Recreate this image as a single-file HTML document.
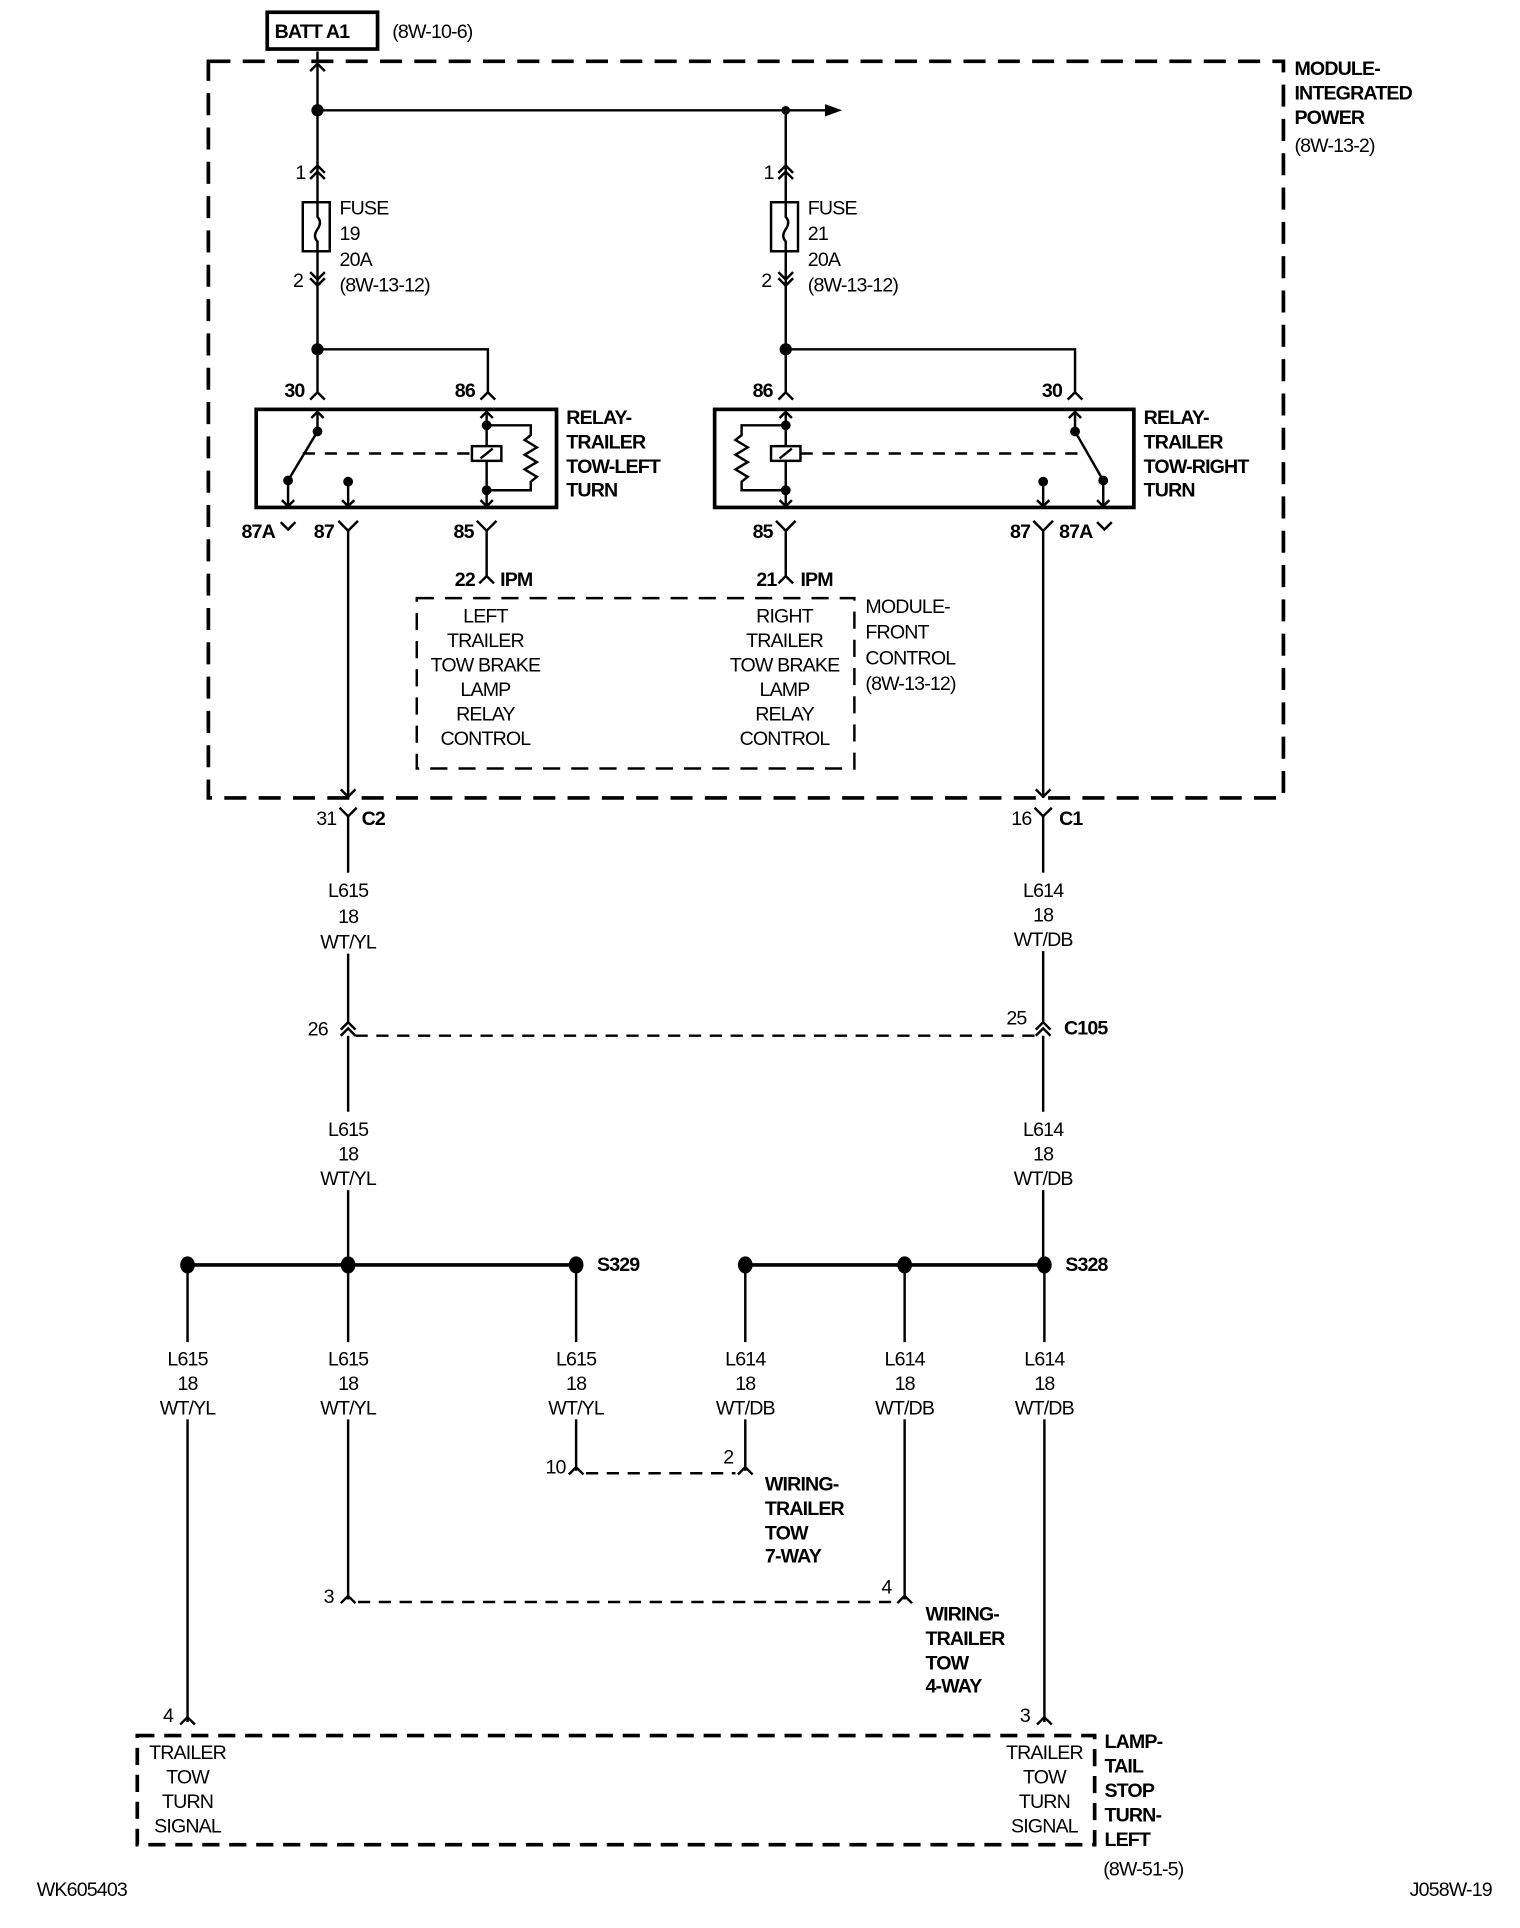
<!DOCTYPE html>
<html><head><meta charset="utf-8"><style>
html,body{margin:0;padding:0;background:#fff;}
svg{display:block;}
text{font-family:"Liberation Sans Narrow","Liberation Sans",sans-serif;font-size:16px;fill:#000;font-weight:bold;letter-spacing:-0.7px;}
.n{font-weight:normal;}
.m{text-anchor:middle;}
</style></head><body>
<svg width="1520" height="1928" viewBox="0 0 1240 1573" preserveAspectRatio="none" xmlns="http://www.w3.org/2000/svg">
<g fill="none" stroke="#000" stroke-width="2">
<rect x="218" y="10" width="90" height="30" stroke-width="3"/>
<rect x="170" y="50" width="877" height="601" stroke-width="3" stroke-dasharray="18 10"/>
<line x1="259" y1="42" x2="259" y2="320"/>
<polyline points="253,58 259,52 265,58"/>
<line x1="259" y1="90" x2="675" y2="90"/>
<line x1="641" y1="90" x2="641" y2="320"/>
<polyline points="253,141 259,135 265,141"/><polyline points="253,146 259,140 265,146"/>
<polyline points="635,141 641,135 647,141"/><polyline points="635,146 641,140 647,146"/>
<polyline points="253,222 259,228 265,222"/><polyline points="253,227 259,233 265,227"/>
<polyline points="635,222 641,228 647,222"/><polyline points="635,227 641,233 647,227"/>
<rect x="247" y="165" width="22" height="40" fill="#fff"/>
<path d="M259 165 v12 q4 4 0 10 q-4 6 0 10 v8"/>
<rect x="629" y="165" width="22" height="40" fill="#fff"/>
<path d="M641 165 v12 q4 4 0 10 q-4 6 0 10 v8"/>
<polyline points="259,285 398,285 398,320"/>
<polyline points="641,285 877,285 877,320"/>
<polyline points="253,326 259,320 265,326"/><polyline points="392,326 398,320 404,326"/>
<polyline points="635,326 641,320 647,326"/><polyline points="871,326 877,320 883,326"/>
<rect x="209" y="334" width="245" height="80" stroke-width="3"/>
<rect x="583" y="334" width="342" height="80" stroke-width="3"/>
<line x1="259" y1="334" x2="259" y2="352"/>
<polyline points="254,341 259,336 264,341"/>
<line x1="259" y1="352" x2="235" y2="392"/>
<line x1="235" y1="392" x2="235" y2="414"/>
<polyline points="230,408 235,413 240,408"/>
<line x1="284" y1="393" x2="284" y2="414"/>
<polyline points="279,408 284,413 289,408"/>
<line x1="247" y1="370" x2="385" y2="370" stroke-dasharray="10 8"/>
<line x1="397" y1="334" x2="397" y2="414"/>
<polyline points="392,341 397,336 402,341"/>
<polyline points="392,408 397,413 402,408"/>
<rect x="385" y="364" width="24" height="12" fill="#fff"/>
<line x1="392" y1="374" x2="402" y2="366"/>
<polyline points="397,347 433,347 433,355 428,359 438,365 428,371 438,377 428,383 438,389 433,393 433,400 397,400"/>
<line x1="641" y1="334" x2="641" y2="414"/>
<polyline points="636,341 641,336 646,341"/>
<polyline points="636,408 641,413 646,408"/>
<rect x="629" y="364" width="24" height="12" fill="#fff"/>
<line x1="636" y1="374" x2="646" y2="366"/>
<polyline points="641,347 605,347 605,355 600,359 610,365 600,371 610,377 600,383 610,389 605,393 605,400 641,400"/>
<line x1="653" y1="370" x2="887" y2="370" stroke-dasharray="10 8"/>
<line x1="877" y1="334" x2="877" y2="352"/>
<polyline points="872,341 877,336 882,341"/>
<line x1="877" y1="352" x2="900" y2="392"/>
<line x1="900" y1="392" x2="900" y2="414"/>
<polyline points="895,408 900,413 905,408"/>
<line x1="851" y1="393" x2="851" y2="414"/>
<polyline points="846,408 851,413 856,408"/>
<polyline points="229,426 235,432 241,426"/>
<polyline points="276,425 284,433 292,425"/><line x1="284" y1="433" x2="284" y2="651"/>
<polyline points="389,425 397,433 405,425"/><line x1="397" y1="433" x2="397" y2="470"/>
<polyline points="391,476 397,470 403,476"/>
<polyline points="633,425 641,433 649,425"/><line x1="641" y1="433" x2="641" y2="470"/>
<polyline points="635,476 641,470 647,476"/>
<polyline points="843,425 851,433 859,425"/><line x1="851" y1="433" x2="851" y2="651"/>
<polyline points="895,426 901,432 907,426"/>
<polyline points="278,644 284,650 290,644"/><polyline points="845,644 851,650 857,644"/>
<rect x="340" y="488" width="357" height="139" stroke-dasharray="14 9"/>
<polyline points="277,659 284,666 291,659"/><line x1="284" y1="666" x2="284" y2="712"/>
<polyline points="844,659 851,666 858,659"/><line x1="851" y1="666" x2="851" y2="712"/>
<line x1="284" y1="778" x2="284" y2="834"/>
<line x1="851" y1="776" x2="851" y2="834"/>
<polyline points="278,840 284,834 290,840"/><polyline points="278,845 284,839 290,845"/>
<polyline points="845,840 851,834 857,840"/><polyline points="845,845 851,839 857,845"/>
<line x1="290" y1="845" x2="845" y2="845" stroke-dasharray="10 7"/>
<line x1="284" y1="845" x2="284" y2="907"/>
<line x1="851" y1="845" x2="851" y2="907"/>
<line x1="284" y1="971" x2="284" y2="1032"/>
<line x1="851" y1="971" x2="851" y2="1032"/>
<line x1="153" y1="1032" x2="470" y2="1032" stroke-width="3"/>
<line x1="608" y1="1032" x2="852" y2="1032" stroke-width="3"/>
<line x1="153" y1="1032" x2="153" y2="1095"/><line x1="284" y1="1032" x2="284" y2="1095"/>
<line x1="470" y1="1032" x2="470" y2="1095"/><line x1="608" y1="1032" x2="608" y2="1095"/>
<line x1="738" y1="1032" x2="738" y2="1095"/><line x1="852" y1="1032" x2="852" y2="1095"/>
<line x1="153" y1="1158" x2="153" y2="1405"/>
<line x1="284" y1="1158" x2="284" y2="1305"/>
<line x1="470" y1="1158" x2="470" y2="1200"/>
<line x1="608" y1="1158" x2="608" y2="1200"/>
<line x1="738" y1="1158" x2="738" y2="1305"/>
<line x1="852" y1="1158" x2="852" y2="1405"/>
<polyline points="464,1203 470,1197 476,1203"/><polyline points="602,1203 608,1197 614,1203"/>
<line x1="478" y1="1202" x2="600" y2="1202" stroke-dasharray="10 7"/>
<polyline points="278,1308 284,1302 290,1308"/><polyline points="732,1308 738,1302 744,1308"/>
<line x1="292" y1="1307" x2="730" y2="1307" stroke-dasharray="10 7"/>
<polyline points="147,1407 153,1401 159,1407"/><polyline points="846,1407 852,1401 858,1407"/>
<path d="M112 1416 H893 V1505 H112 Z" stroke-width="3" stroke-dasharray="14 8"/>
</g>
<g fill="#000">
<polygon points="673,85 687,90 673,95"/>
<circle cx="259" cy="90" r="5"/><circle cx="641" cy="90" r="3.5"/>
<circle cx="259" cy="285" r="5"/><circle cx="641" cy="285" r="5"/>
<circle cx="259" cy="352" r="4"/><circle cx="235" cy="392" r="4"/><circle cx="284" cy="393" r="4"/>
<circle cx="397" cy="347" r="4"/><circle cx="397" cy="400" r="4"/>
<circle cx="641" cy="347" r="4"/><circle cx="641" cy="400" r="4"/>
<circle cx="877" cy="352" r="4"/><circle cx="900" cy="392" r="4"/><circle cx="851" cy="393" r="4"/>
<ellipse cx="153" cy="1032" rx="6" ry="7"/><ellipse cx="284" cy="1032" rx="6" ry="7"/><ellipse cx="470" cy="1032" rx="6" ry="7"/>
<ellipse cx="608" cy="1032" rx="6" ry="7"/><ellipse cx="738" cy="1032" rx="6" ry="7"/><ellipse cx="852" cy="1032" rx="6" ry="7"/>
</g>
<text x="224" y="31">BATT A1</text>
<text x="320" y="31" class="n">(8W-10-6)</text>
<text x="1056" y="61">MODULE-</text><text x="1056" y="81">INTEGRATED</text><text x="1056" y="101">POWER</text>
<text x="1056" y="124" class="n">(8W-13-2)</text>
<text x="241" y="146" class="n">1</text><text x="623" y="146" class="n">1</text>
<text x="239" y="234" class="n">2</text><text x="621" y="234" class="n">2</text>
<text x="277" y="175" class="n">FUSE</text><text x="277" y="196" class="n">19</text><text x="277" y="217" class="n">20A</text><text x="277" y="238" class="n">(8W-13-12)</text>
<text x="659" y="175" class="n">FUSE</text><text x="659" y="196" class="n">21</text><text x="659" y="217" class="n">20A</text><text x="659" y="238" class="n">(8W-13-12)</text>
<text x="232" y="324">30</text><text x="371" y="324">86</text>
<text x="614" y="324">86</text><text x="850" y="324">30</text>
<text x="462" y="346">RELAY-</text><text x="462" y="366">TRAILER</text><text x="462" y="386">TOW-LEFT</text><text x="462" y="405">TURN</text>
<text x="933" y="346">RELAY-</text><text x="933" y="366">TRAILER</text><text x="933" y="386">TOW-RIGHT</text><text x="933" y="405">TURN</text>
<text x="197" y="439">87A</text><text x="256" y="439">87</text><text x="370" y="439">85</text>
<text x="614" y="439">85</text><text x="824" y="439">87</text><text x="864" y="439">87A</text>
<text x="371" y="478">22</text><text x="408" y="478">IPM</text>
<text x="617" y="478">21</text><text x="653" y="478">IPM</text>
<g class="m">
<text x="396" y="508" class="n m">LEFT</text><text x="396" y="528" class="n m">TRAILER</text><text x="396" y="548" class="n m">TOW BRAKE</text><text x="396" y="568" class="n m">LAMP</text><text x="396" y="588" class="n m">RELAY</text><text x="396" y="608" class="n m">CONTROL</text>
<text x="640" y="508" class="n m">RIGHT</text><text x="640" y="528" class="n m">TRAILER</text><text x="640" y="548" class="n m">TOW BRAKE</text><text x="640" y="568" class="n m">LAMP</text><text x="640" y="588" class="n m">RELAY</text><text x="640" y="608" class="n m">CONTROL</text>
</g>
<text x="706" y="500" class="n">MODULE-</text><text x="706" y="521" class="n">FRONT</text><text x="706" y="542" class="n">CONTROL</text><text x="706" y="563" class="n">(8W-13-12)</text>
<text x="258" y="673" class="n">31</text><text x="295" y="673">C2</text>
<text x="825" y="673" class="n">16</text><text x="864" y="673">C1</text>
<g>
<text x="284" y="732" class="n m">L615</text><text x="284" y="753" class="n m">18</text><text x="284" y="774" class="n m">WT/YL</text>
<text x="851" y="732" class="n m">L614</text><text x="851" y="752" class="n m">18</text><text x="851" y="772" class="n m">WT/DB</text>
<text x="284" y="927" class="n m">L615</text><text x="284" y="947" class="n m">18</text><text x="284" y="967" class="n m">WT/YL</text>
<text x="851" y="927" class="n m">L614</text><text x="851" y="947" class="n m">18</text><text x="851" y="967" class="n m">WT/DB</text>
<text x="153" y="1114" class="n m">L615</text><text x="153" y="1134" class="n m">18</text><text x="153" y="1154" class="n m">WT/YL</text>
<text x="284" y="1114" class="n m">L615</text><text x="284" y="1134" class="n m">18</text><text x="284" y="1154" class="n m">WT/YL</text>
<text x="470" y="1114" class="n m">L615</text><text x="470" y="1134" class="n m">18</text><text x="470" y="1154" class="n m">WT/YL</text>
<text x="608" y="1114" class="n m">L614</text><text x="608" y="1134" class="n m">18</text><text x="608" y="1154" class="n m">WT/DB</text>
<text x="738" y="1114" class="n m">L614</text><text x="738" y="1134" class="n m">18</text><text x="738" y="1154" class="n m">WT/DB</text>
<text x="852" y="1114" class="n m">L614</text><text x="852" y="1134" class="n m">18</text><text x="852" y="1154" class="n m">WT/DB</text>
<text x="153" y="1435" class="n m">TRAILER</text><text x="153" y="1455" class="n m">TOW</text><text x="153" y="1475" class="n m">TURN</text><text x="153" y="1495" class="n m">SIGNAL</text>
<text x="852" y="1435" class="n m">TRAILER</text><text x="852" y="1455" class="n m">TOW</text><text x="852" y="1475" class="n m">TURN</text><text x="852" y="1495" class="n m">SIGNAL</text>
</g>
<text x="251" y="845" class="n">26</text><text x="821" y="836" class="n">25</text><text x="868" y="844">C105</text>
<text x="487" y="1037">S329</text><text x="869" y="1037">S328</text>
<text x="445" y="1202" class="n">10</text><text x="590" y="1194" class="n">2</text>
<text x="624" y="1216">WIRING-</text><text x="624" y="1236">TRAILER</text><text x="624" y="1256">TOW</text><text x="624" y="1275">7-WAY</text>
<text x="264" y="1308" class="n">3</text><text x="719" y="1300" class="n">4</text>
<text x="755" y="1322">WIRING-</text><text x="755" y="1342">TRAILER</text><text x="755" y="1362">TOW</text><text x="755" y="1381">4-WAY</text>
<text x="133" y="1405" class="n">4</text><text x="832" y="1405" class="n">3</text>
<text x="901" y="1426">LAMP-</text><text x="901" y="1446">TAIL</text><text x="901" y="1466">STOP</text><text x="901" y="1486">TURN-</text><text x="901" y="1506">LEFT</text>
<text x="900" y="1530" class="n">(8W-51-5)</text>
<text x="30" y="1547" class="n">WK605403</text>
<text x="1150" y="1547" class="n">J058W-19</text>
</svg>
</body></html>
